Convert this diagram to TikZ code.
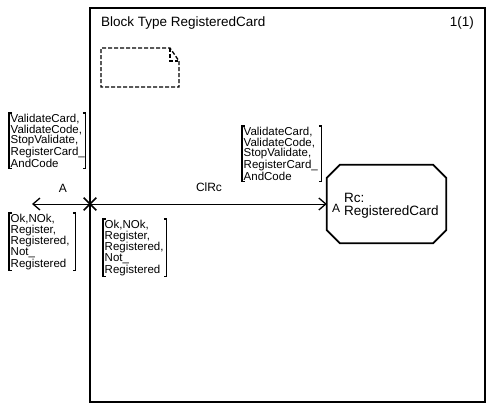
\documentclass[tikz,border=0pt]{standalone}
\usepackage{fontspec}
\setmainfont{Liberation Sans}
\usetikzlibrary{arrows.meta,shapes.misc}
\newcommand\sigbrk[1]{%
  \draw[brk] ([xshift=2.5pt]#1.north west) -| (#1.south west) -- ++(2.5,0);
  \draw[brk] ([xshift=-2.5pt]#1.north east) -| (#1.south east) -- ++(-2.5,0);}
\begin{document}
\begin{tikzpicture}[x=1pt,y=-1pt,
  siglist/.style={anchor=north west, align=left, inner xsep=1.5pt, inner ysep=1pt,
    font=\fontsize{11.5}{10.6}\selectfont},
  brk/.style={line width=1.2pt},
  lbl/.style={font=\fontsize{12}{13}\selectfont, inner sep=0pt},
  big/.style={font=\fontsize{13.5}{14}\selectfont, inner sep=0pt},
  chan/.style={line width=1pt, -{Straight Barb[length=7pt,width=12pt,line width=1.3pt]}},
  dsh/.style={line width=1.3pt, dash pattern=on 4pt off 2pt},
]
\useasboundingbox (0,0) rectangle (493,410);
% frame
\draw[line width=1.4pt] (90,8) rectangle (485,402);
\node[big, anchor=west] (title) at (101,23) {Block Type RegisteredCard};
\node[big, anchor=east] (pg) at (474,23) {1(1)};
% dashed symbol
\draw[dsh] (179,61) -- (179,87) -- (101,87) -- (101,48) -- (170,48) -- (179,61);
\draw[dsh] (170,48) -- (170,61) -- (178,61);
% block
\node[minimum width=119pt, minimum height=78pt, inner sep=0pt] (rc) at (386.5,204) {};
\draw[line width=1.8pt] ([xshift=13pt]rc.north west) -- ([xshift=-13pt]rc.north east)
  -- ([yshift=-13pt]rc.north east) -- ([yshift=13pt]rc.south east)
  -- ([xshift=-13pt]rc.south east) -- ([xshift=13pt]rc.south west)
  -- ([yshift=13pt]rc.south west) -- ([yshift=-13pt]rc.north west) -- cycle;
\node[lbl] (ra) at (336,208) {A};
\node[anchor=west, align=left, inner sep=0pt, font=\fontsize{13.5}{13}\selectfont] (rn) at (344,206) {Rc:\\RegisteredCard};
% channel
\node[cross out, draw, line width=1.6pt, minimum size=11pt, inner sep=0pt] (x) at (90,204) {};
\coordinate (envl) at (32,204);
\draw[chan] (x.center) -- (rc.west);
\draw[chan] (x.center) -- (envl);
\node[lbl] (la) at (63,188) {A};
\node[lbl] (lc) at (209,187) {ClRc};
% signal lists
\node[siglist, text width=73pt] (s1) at (9,113) {ValidateCard,\\ValidateCode,\\StopValidate,\\RegisterCard\_\\AndCode};
\node[siglist, text width=63pt] (s2) at (9,213) {Ok,NOk,\\Register,\\Registered,\\Not\_\\Registered};
\node[siglist, text width=60pt] (s3) at (103,219) {Ok,NOk,\\Register,\\Registered,\\Not\_\\Registered};
\node[siglist, text width=76pt] (s4) at (242,126) {ValidateCard,\\ValidateCode,\\StopValidate,\\RegisterCard\_\\AndCode};
\sigbrk{s1}
\sigbrk{s2}
\sigbrk{s3}
\sigbrk{s4}
\end{tikzpicture}
\end{document}
